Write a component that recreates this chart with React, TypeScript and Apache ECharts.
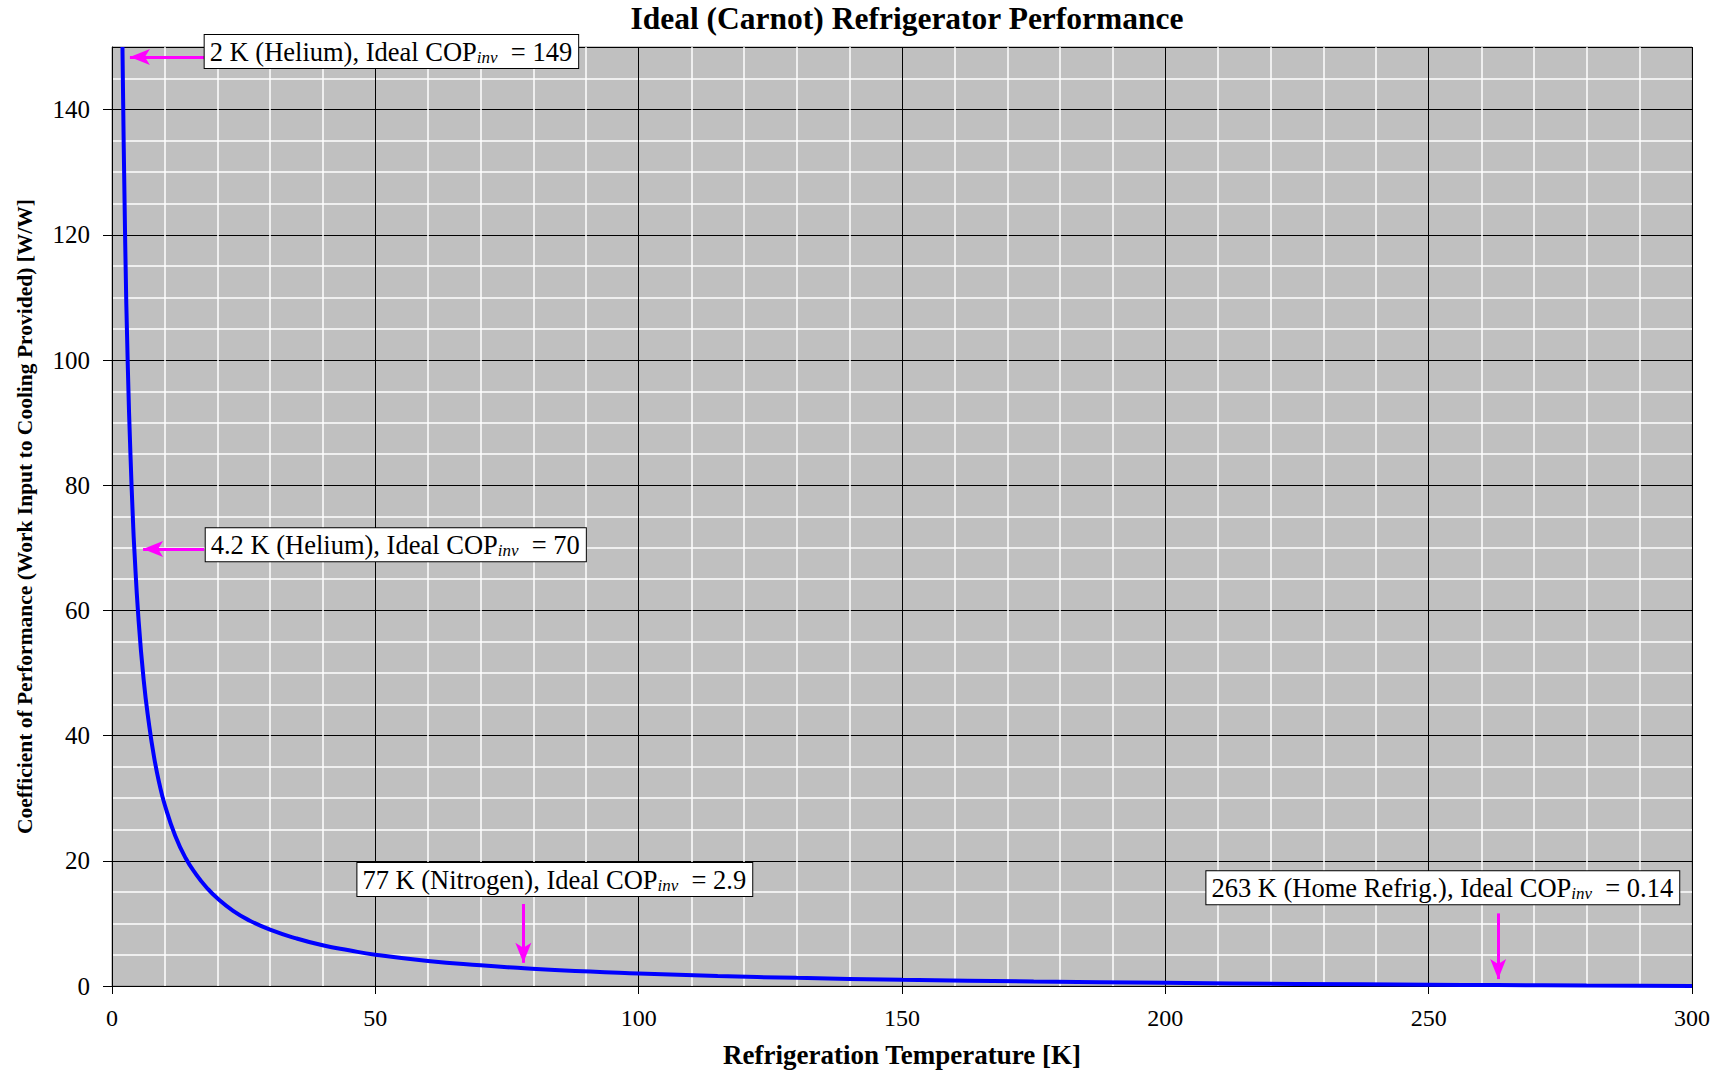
import React, { useEffect, useRef } from "react";
import * as echarts from "echarts";

// Refrigeration temperature [K] and ideal COP_inv values
const tempK = [1.99, 2, 2.5, 3, 3.5, 4, 4.2, 5, 6, 7, 8, 9, 10, 12, 14, 16, 18, 20, 23, 26, 30, 35, 40, 45, 50, 60, 70, 77, 85, 100, 115, 130, 150, 175, 200, 225, 250, 263, 280, 300];
const copInv = [150, 149, 119, 99, 85, 74, 70.4, 59, 49, 42, 36.5, 32.3, 29, 24, 20.4, 17.8, 15.7, 14, 12, 10.5, 9, 7.6, 6.5, 5.7, 5, 4, 3.3, 2.9, 2.5, 2, 1.6, 1.3, 1, 0.71, 0.5, 0.33, 0.2, 0.14, 0.07, 0];

// Annotation boxes: label parts and anchor (left edge, vertical centre) in data units
const noteMain = ["2 K (Helium), Ideal COP", "4.2 K (Helium), Ideal COP", "77 K (Nitrogen), Ideal COP", "263 K (Home Refrig.), Ideal COP"];
const noteValue = ["149", "70", "2.9", "0.14"];
const noteX = [17.5, 17.7, 46.5, 207.7];
const noteY = [149.3, 70.5, 17.0, 15.7];

// Arrows: start and end (tip) points in data units
const arrowFromX = [17.5, 17.5, 78.1, 263.2];
const arrowFromY = [148.4, 69.8, 13.1, 11.6];
const arrowToX = [3.4, 5.9, 78.1, 263.2];
const arrowToY = [148.4, 69.8, 3.7, 1.1];

const xTicks = [0, 50, 100, 150, 200, 250, 300];
const yTicks = [0, 20, 40, 60, 80, 100, 120, 140];

const SERIF = '"Liberation Serif", "DejaVu Serif", serif';

export default function App() {
  const ref = useRef<HTMLDivElement>(null);
  useEffect(() => {
    if (!ref.current) return;
    const chart = echarts.init(ref.current, undefined, { renderer: "svg" });
    const lineData = tempK.map((t, i) => [t, copInv[i]]);
    const markPoints = noteMain.map((m, i) => ({
      coord: [noteX[i], noteY[i]],
      label: {
        formatter: `{t|${m}}{s|inv}{t|  = ${noteValue[i]}}`,
      },
    }));
    const arrows = arrowFromX.map((x, i) => [
      { coord: [x, arrowFromY[i]] },
      { coord: [arrowToX[i], arrowToY[i]] },
    ]);
    chart.setOption({
      animation: false,
      backgroundColor: "#ffffff",
      title: {
        text: "Ideal (Carnot) Refrigerator Performance",
        left: 907,
        top: 2,
        textAlign: "center",
        padding: 0,
        textStyle: { fontFamily: SERIF, fontWeight: "bold", fontSize: 31.5, color: "#000" },
      },
      grid: {
        left: 112,
        right: 31,
        top: 47,
        bottom: 85,
        show: true,
        backgroundColor: "#c0c0c0",
        borderColor: "#8c8c8c",
        borderWidth: 1,
      },
      xAxis: {
        type: "value",
        min: xTicks[0],
        max: xTicks[xTicks.length - 1],
        interval: 50,
        name: "Refrigeration Temperature [K]",
        nameLocation: "middle",
        nameGap: 55,
        nameTextStyle: { fontFamily: SERIF, fontWeight: "bold", fontSize: 27, color: "#000" },
        axisLine: { show: true, lineStyle: { color: "#000", width: 1 } },
        axisTick: { show: true, length: 8, lineStyle: { color: "#000" } },
        axisLabel: { margin: 20, fontFamily: SERIF, fontSize: 24, color: "#000" },
        splitLine: { show: true, lineStyle: { color: "#000", width: 1 } },
        minorTick: { show: false, splitNumber: 5 },
        minorSplitLine: { show: true, lineStyle: { color: "#ffffff", width: 1.5 } },
      },
      yAxis: {
        type: "value",
        min: yTicks[0],
        max: 150,
        interval: 20,
        name: "Coefficient of Performance (Work Input to Cooling Provided) [W/W]",
        nameLocation: "middle",
        nameGap: 76,
        nameTextStyle: { fontFamily: SERIF, fontWeight: "bold", fontSize: 21.5, color: "#000" },
        axisLine: { show: true, lineStyle: { color: "#000", width: 1 } },
        axisTick: { show: true, length: 9, lineStyle: { color: "#000" } },
        axisLabel: { margin: 22, fontFamily: SERIF, fontSize: 25, color: "#000", showMaxLabel: false },
        splitLine: { show: true, lineStyle: { color: "#000", width: 1 } },
        minorTick: { show: false, splitNumber: 4 },
        minorSplitLine: { show: true, lineStyle: { color: "#ffffff", width: 1.5 } },
      },
      series: [
        {
          type: "line",
          data: lineData,
          showSymbol: false,
          smooth: 0.5,
          clip: true,
          lineStyle: { color: "#0000ff", width: 4 },
          z: 3,
          markLine: {
            silent: true,
            symbol: ["none", "arrow"],
            symbolSize: [12, 20],
            label: { show: false },
            lineStyle: { color: "#ff00ff", width: 3, type: "solid" },
            data: arrows,
          },
          markPoint: {
            silent: true,
            symbol: "circle",
            symbolSize: 1,
            itemStyle: { color: "rgba(0,0,0,0)" },
            label: {
              show: true,
              position: "right",
              distance: 0,
              backgroundColor: "#ffffff",
              borderColor: "#000000",
              borderWidth: 1,
              padding: [3, 6, 2, 5],
              rich: {
                t: { fontFamily: SERIF, fontSize: 26.5, color: "#000", lineHeight: 28 },
                s: {
                  fontFamily: SERIF,
                  fontSize: 17,
                  fontStyle: "italic",
                  color: "#000",
                  lineHeight: 16,
                  verticalAlign: "bottom",
                },
              },
            },
            data: markPoints,
          },
        },
      ],
    });
    return () => chart.dispose();
  }, []);
  return (
    <div
      ref={ref}
      style={{ position: "fixed", left: 0, top: 0, width: 1723, height: 1073, background: "#fff" }}
    />
  );
}
